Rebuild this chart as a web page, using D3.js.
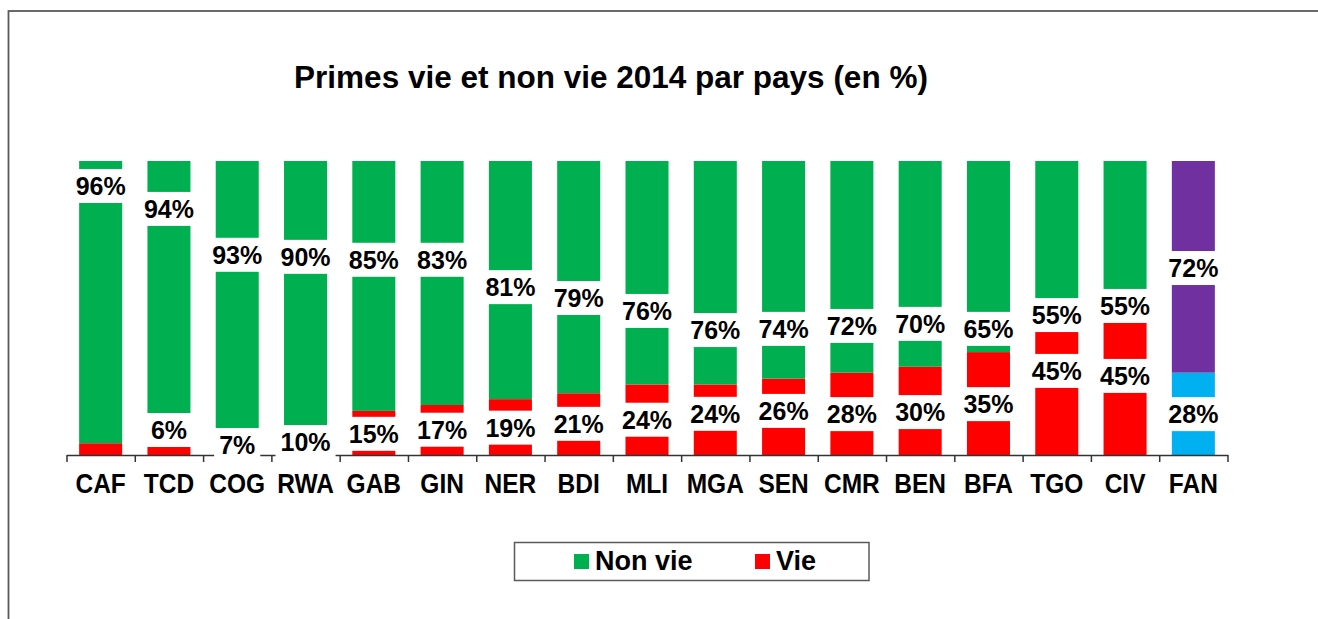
<!DOCTYPE html>
<html>
<head>
<meta charset="utf-8">
<script src="https://cdn.jsdelivr.net/npm/d3@7"></script>
<style>
  body { margin: 0; background: #fff; }
  svg { display: block; }
  text { font-family: "Liberation Sans", Arial, sans-serif; font-weight: bold; fill: #000; }
</style>
</head>
<body>
<svg id="chart" width="1318" height="619"></svg>
<script>
// data
let countries = ["CAF", "TCD", "COG", "RWA", "GAB", "GIN", "NER", "BDI", "MLI", "MGA", "SEN", "CMR", "BEN", "BFA", "TGO", "CIV", "FAN"];
let nonVie = [96, 94, 93, 90, 85, 83, 81, 79, 76, 76, 74, 72, 70, 65, 55, 55, 72];
let vie    = [4, 6, 7, 10, 15, 17, 19, 21, 24, 24, 26, 28, 30, 35, 45, 45, 28];
let seriesNames = ["Non vie", "Vie"];

// the labels were dragged by hand in the original, so keep where they sit (in % of the axis)
let nonVieLabelAt = [91.5, 83.7, 68.1, 67.4, 66.4, 66.4, 57.1, 53.4, 49.0, 42.5, 42.9, 43.9, 44.6, 42.9, 47.6, 50.7, 63.6];
let vieLabelAt    = [null, 8.5, 3.4, 4.4, 7.2, 8.6, 9.3, 10.6, 12.0, 14.0, 15.0, 13.9, 14.6, 17.3, 28.6, 26.9, 13.9];

let green = "#00B050", red = "#FF0000", purple = "#7030A0", blue = "#00B0F0";

let svg = d3.select("#chart");

// outer frame (only top and left show)
svg.append("rect")
    .attr("x", 8.5).attr("y", 11)
    .attr("width", 1330).attr("height", 640)
    .attr("fill", "none")
    .attr("stroke", "#5a5a5a")
    .attr("stroke-width", 1.8);

svg.append("text")
    .attr("x", 611).attr("y", 88)
    .attr("text-anchor", "middle")
    .style("font-size", "31.5px")
    .text("Primes vie et non vie 2014 par pays (en %)");

let x = d3.scaleBand()
    .domain(countries)
    .range([66.5, 1227.5])
    .paddingInner(0.37)
    .paddingOuter(0.185);

let y = d3.scaleLinear().domain([0, 100]).range([455, 161]);

let rows = countries.map(function(c, i) {
    return { name: c, nonVie: nonVie[i], vie: vie[i], fan: c === "FAN" };
});

let g = svg.append("g");

// Vie at the bottom
g.selectAll(".vie")
  .data(rows)
  .enter().append("rect")
    .attr("class", "vie")
    .attr("x", d => x(d.name))
    .attr("width", x.bandwidth())
    .attr("y", d => y(d.vie))
    .attr("height", d => y(0) - y(d.vie))
    .attr("fill", d => d.fan ? blue : red);

// Non vie on top
g.selectAll(".nonvie")
  .data(rows)
  .enter().append("rect")
    .attr("class", "nonvie")
    .attr("x", d => x(d.name))
    .attr("width", x.bandwidth())
    .attr("y", d => y(d.vie + d.nonVie))
    .attr("height", d => y(d.vie) - y(d.vie + d.nonVie))
    .attr("fill", d => d.fan ? purple : green);

// axis: ticks between categories, labels under each bar
let edges = d3.scaleLinear().domain([0, countries.length]).range(x.range());
svg.append("g")
    .attr("transform", "translate(0," + y(0) + ")")
    .call(d3.axisBottom(edges).tickValues(d3.range(countries.length + 1)).tickSize(7).tickSizeOuter(0).tickFormat(""))
    .call(a => a.selectAll("path,line").attr("stroke", "#333").attr("stroke-width", 1.5));

// the category names are a bit taller than plain Arial in the original
svg.append("g")
    .attr("transform", "translate(0," + y(0) + ")")
    .call(d3.axisBottom(x).tickSize(0))
    .call(a => a.select(".domain").remove())
    .call(a => a.selectAll("text")
        .attr("y", 0)
        .attr("dy", 0)
        .attr("transform", "translate(0,38) scale(1,1.14)")
        .style("font-size", "24.5px")
        .style("font-family", "'Liberation Sans', Arial, sans-serif")
        .style("font-weight", "bold")
        .attr("fill", "#000"));

// data labels on white boxes
function addLabels(values, at) {
    let lab = svg.append("g").selectAll("g")
      .data(values.map((v, i) => ({ name: countries[i], v: v, at: at[i] })).filter(d => d.at !== null))
      .enter().append("g")
        .attr("transform", d => "translate(" + (x(d.name) + x.bandwidth() / 2) + "," + y(d.at) + ")");
    let box = lab.append("rect").attr("fill", "#fff");
    let txt = lab.append("text")
        .attr("text-anchor", "middle")
        .attr("dy", "0.36em")
        .style("font-size", "25px")
        .text(d => d.v + "%");
    txt.each(function(d) {
        let w = this.getComputedTextLength() + 10;
        d3.select(this.parentNode).select("rect")
            .attr("x", -w / 2).attr("y", -17)
            .attr("width", w).attr("height", 34);
    });
}
addLabels(nonVie, nonVieLabelAt);
addLabels(vie, vieLabelAt);

// legend
let legend = svg.append("g");
legend.append("rect")
    .attr("x", 514.5).attr("y", 542.5)
    .attr("width", 354.5).attr("height", 38)
    .attr("fill", "#fff")
    .attr("stroke", "#5a5a5a")
    .attr("stroke-width", 1.5);
let legendX = [574, 755];
let legendColors = [green, red];
seriesNames.forEach(function(s, i) {
    legend.append("rect")
        .attr("x", legendX[i]).attr("y", 554)
        .attr("width", 15).attr("height", 15)
        .attr("fill", legendColors[i]);
    legend.append("text")
        .attr("x", legendX[i] + 21).attr("y", 570)
        .style("font-size", "27px")
        .text(s);
});
</script>
</body>
</html>
